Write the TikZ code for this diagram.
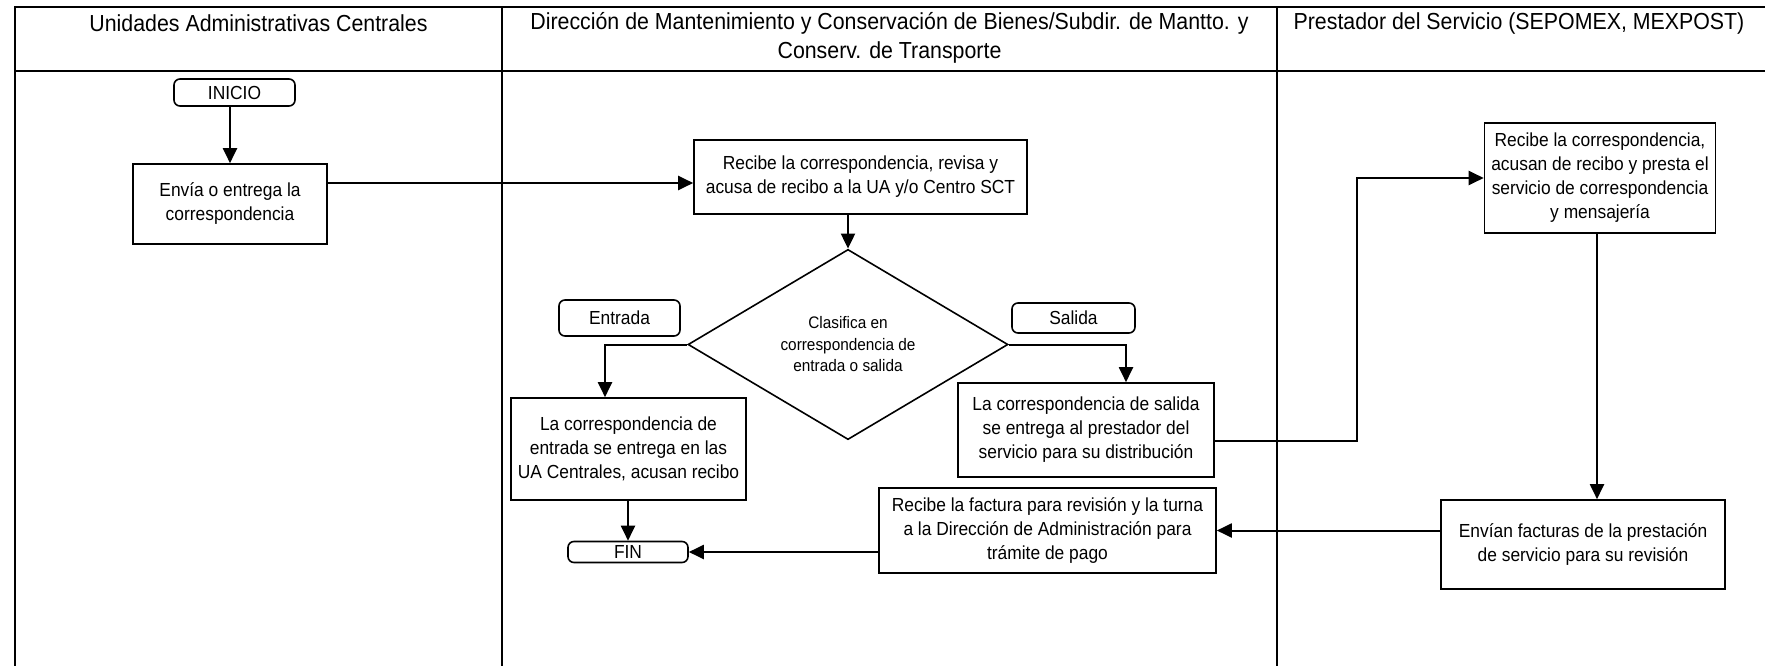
\documentclass[tikz,border=0pt]{standalone}
\usepackage{fontspec}
\setmainfont{Liberation Sans}[FakeStretch=0.92]
\usetikzlibrary{arrows.meta,shapes.geometric}
\begin{document}
\begin{tikzpicture}[x=1pt,y=-1pt,
  lane/.style={line width=2pt},
  hdr/.style={font=\fontsize{23.2pt}{29pt}\selectfont, align=center, inner sep=0pt},
  box/.style={draw, line width=1.6pt, align=center, inner sep=0pt, font=\fontsize{18.9pt}{24pt}\selectfont},
  term/.style={box, rounded corners=6pt},
  dec/.style={draw, diamond, line width=1.6pt, align=center, inner sep=0pt, font=\fontsize{16.7pt}{21.5pt}\selectfont},
  arr/.style={line width=2pt, -{Triangle[length=15pt,width=14pt]}}
]
\useasboundingbox (0,0) rectangle (1765,666);
\fill[white] (0,0) rectangle (1765,666);
% frame
\draw[lane] (15,666) -- (15,7.5) -- (1765,7.5);
\draw[lane] (15,71) -- (1765,71);
\draw[lane] (502,7.5) -- (502,666);
\draw[lane] (1277,7.5) -- (1277,666);
% headers
\node[hdr] (h1) at (258.5,23) {Unidades Administrativas Centrales};
\node[hdr] (h2) at (889.5,37.5) {Dirección de Mantenimiento y Conservación de Bienes/Subdir. de Mantto. y\\Conserv. de Transporte};
\node[hdr] (h3) at (1519,23) {Prestador del Servicio (SEPOMEX, MEXPOST)};
% nodes
\node[term, minimum width=121pt, minimum height=27pt] (inicio) at (234.5,92.5) {INICIO};
\node[box, minimum width=194pt, minimum height=80pt] (envia) at (230,204) {Envía o entrega la\\correspondencia};
\node[box, minimum width=333pt, minimum height=74pt] (recibe) at (860.5,177) {Recibe la correspondencia, revisa y\\acusa de recibo a la UA y/o Centro SCT};
\node[dec, minimum width=320pt, minimum height=183pt] (dia) at (848,344.5) {Clasifica en\\correspondencia de\\entrada o salida};
\node[term, minimum width=121pt, minimum height=36pt] (entrada) at (619.5,318) {Entrada};
\node[box, minimum width=235pt, minimum height=102pt] (ent) at (628.5,449) {La correspondencia de\\entrada se entrega en las\\UA Centrales, acusan recibo};
\node[term, minimum width=120pt, minimum height=21pt] (fin) at (628,552) {FIN};
\node[term, minimum width=123pt, minimum height=30pt] (salida) at (1073.5,318) {Salida};
\node[box, minimum width=256pt, minimum height=94pt] (sal) at (1086,430) {La correspondencia de salida\\se entrega al prestador del\\servicio para su distribución};
\node[box, minimum width=337pt, minimum height=85pt] (fact) at (1047.5,530.5) {Recibe la factura para revisión y la turna\\a la Dirección de Administración para\\trámite de pago};
\node[box, minimum width=231pt, minimum height=110pt] (rec3) at (1600,178) {Recibe la correspondencia,\\acusan de recibo y presta el\\servicio de correspondencia\\y mensajería};
\node[box, minimum width=284pt, minimum height=89pt] (envian) at (1583,544.5) {Envían facturas de la prestación\\de servicio para su revisión};
% helper coordinates
\coordinate (rin) at ([yshift=-6pt]recibe.west);
\coordinate (sout) at ([yshift=-11pt]sal.east);
\coordinate (bend) at (1357,176);
% connectors
\draw[arr] (inicio.south -| envia.north) -- (envia.north);
\draw[arr] (rin -| envia.east) -- (rin);
\draw[arr] (recibe.south -| dia.north) -- (dia.north);
\draw[arr] (dia.west) -| ([xshift=-23.5pt]ent.north);
\draw[arr] (ent.south -| fin.north) -- (fin.north);
\draw[arr] (dia.east) -| ([xshift=40pt]sal.north);
\draw[arr] (sout) -- (sout -| bend) |- (rec3.west);
\draw[arr] ([xshift=-3pt]rec3.south) -- ([xshift=-3pt]rec3.south |- envian.north);
\draw[arr] (envian.west |- fact.east) -- (fact.east);
\draw[arr] (fact.west |- fin.east) -- (fin.east);
\end{tikzpicture}
\end{document}
